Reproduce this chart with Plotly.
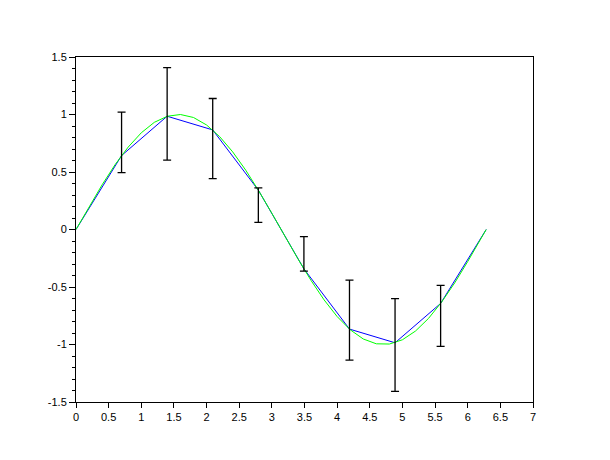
import plotly.graph_objects as go

# Sampled points (blue polyline with error bars)
x_pts = [0.0, 0.698, 1.396, 2.094, 2.793, 3.491, 4.189, 4.887, 5.585, 6.283]
y_pts = [0.0, 0.643, 0.985, 0.866, 0.342, -0.342, -0.866, -0.985, -0.643, 0.0]

# Error bars (only on inner points)
x_err = [0.698, 1.396, 2.094, 2.793, 3.491, 4.189, 4.887, 5.585]
y_err = [0.643, 0.985, 0.866, 0.342, -0.342, -0.866, -0.985, -0.643]
err_plus = [0.378, 0.423, 0.273, 0.020, 0.280, 0.426, 0.384, 0.157]
err_minus = [0.149, 0.381, 0.424, 0.280, 0.020, 0.270, 0.423, 0.374]

# Smooth reference curve (green)
x_curve = [0.0, 0.2, 0.4, 0.6, 0.8, 1.0, 1.2, 1.4, 1.6, 1.8, 2.0, 2.2, 2.4, 2.6,
           2.8, 3.0, 3.2, 3.4, 3.6, 3.8, 4.0, 4.2, 4.4, 4.6, 4.8, 5.0, 5.2, 5.4,
           5.6, 5.8, 6.0, 6.2, 6.283]
y_curve = [0.0, 0.199, 0.389, 0.565, 0.717, 0.841, 0.932, 0.985, 1.0, 0.974,
           0.909, 0.808, 0.675, 0.516, 0.335, 0.141, -0.058, -0.256, -0.443,
           -0.612, -0.757, -0.872, -0.952, -0.994, -0.996, -0.959, -0.883,
           -0.773, -0.631, -0.465, -0.279, -0.083, 0.0]

x_ticks = [0, 0.5, 1, 1.5, 2, 2.5, 3, 3.5, 4, 4.5, 5, 5.5, 6, 6.5, 7]
x_tick_labels = ["0", "0.5", "1", "1.5", "2", "2.5", "3", "3.5", "4", "4.5",
                 "5", "5.5", "6", "6.5", "7"]
y_ticks = [-1.5, -1, -0.5, 0, 0.5, 1, 1.5]
y_tick_labels = ["-1.5", "-1", "-0.5", "0", "0.5", "1", "1.5"]

fig = go.Figure()
fig.add_trace(go.Scatter(x=x_pts, y=y_pts, mode="lines",
                         line=dict(color="#0000ff", width=1), showlegend=False,
                         hoverinfo="skip"))
fig.add_trace(go.Scatter(x=x_curve, y=y_curve, mode="lines",
                         line=dict(color="#00ff00", width=1), showlegend=False,
                         hoverinfo="skip"))
fig.add_trace(go.Scatter(x=x_err, y=y_err, mode="markers",
                         marker=dict(size=1, color="rgba(0,0,0,0)"),
                         error_y=dict(type="data", symmetric=False,
                                      array=err_plus, arrayminus=err_minus,
                                      color="black", thickness=1.3, width=4),
                         showlegend=False, hoverinfo="skip"))

font = dict(family="Liberation Sans, Arial, sans-serif", size=11, color="black")
fig.update_layout(
    width=610, height=460,
    margin=dict(l=68, r=85, t=49, b=66),
    paper_bgcolor="white", plot_bgcolor="white",
    font=font,
    showlegend=False,
    xaxis=dict(range=[0, 7], tickvals=x_ticks, ticktext=x_tick_labels,
               showgrid=False, zeroline=False, showline=True, linecolor="black",
               linewidth=1, mirror=True, ticks="outside", ticklen=5,
               tickcolor="black", tickwidth=1),
    yaxis=dict(range=[-1.5, 1.5], tickvals=y_ticks, ticktext=y_tick_labels,
               showgrid=False, zeroline=False, showline=True, linecolor="black",
               linewidth=1, mirror=True, ticks="outside", ticklen=6,
               tickcolor="black", tickwidth=1,
               minor=dict(dtick=0.1, ticks="outside", ticklen=3,
                          tickcolor="black", tickwidth=1, showgrid=False)),
)

fig.write_html("out.html")
